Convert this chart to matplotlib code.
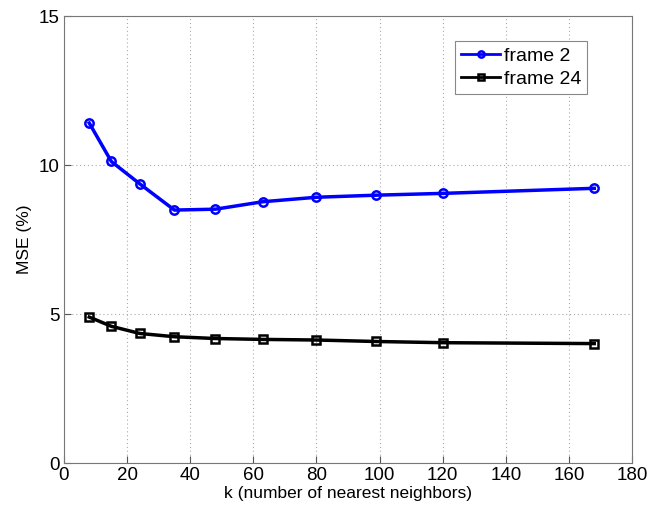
import numpy as np
import matplotlib.pyplot as plt

plt.rcParams['font.family'] = ['Liberation Sans', 'DejaVu Sans']

# k values (number of nearest neighbors)
k = [8, 15, 24, 35, 48, 63, 80, 99, 120, 168]
# MSE (%) per frame
mse_frame2 = [11.41, 10.12, 9.37, 8.49, 8.52, 8.77, 8.92, 8.99, 9.05, 9.22]
mse_frame24 = [4.90, 4.59, 4.35, 4.24, 4.18, 4.15, 4.13, 4.08, 4.04, 4.01]

fig = plt.figure(figsize=(6.51, 5.18), dpi=100)
ax = fig.add_axes([0.0983, 0.106, 0.8727, 0.863])

ax.plot(k, mse_frame2, color='blue', linewidth=2.5, marker='o', markersize=6,
        markerfacecolor='none', markeredgewidth=1.8, label='frame 2')
ax.plot(k, mse_frame24, color='black', linewidth=2.5, marker='s', markersize=5.5,
        markerfacecolor='none', markeredgewidth=1.8, label='frame 24')

ax.set_xlim(0, 180)
ax.set_ylim(0, 15)
ax.set_xticks(np.arange(0, 181, 20))
ax.set_yticks([0, 5, 10, 15])
ax.tick_params(direction='in', labelsize=13.5, color='#555555', length=5, pad=3)
for s in ax.spines.values():
    s.set_color('#777777')
ax.grid(True, linestyle=(0, (1, 2.5)), color='#aaaaaa', linewidth=0.8)

ax.set_xlabel('k (number of nearest neighbors)', fontsize=12.5, labelpad=1)
ax.set_ylabel('MSE (%)', fontsize=12.5, labelpad=5)

leg = ax.legend(loc='upper right', bbox_to_anchor=(0.921, 0.944), fontsize=14,
                fancybox=False, framealpha=1, edgecolor='#888888',
                handlelength=2.0, handletextpad=0.2, borderpad=0.3,
                labelspacing=0.3, borderaxespad=0)
leg.get_frame().set_linewidth(0.8)
for h in leg.get_lines():
    h.set_linewidth(2)
    h.set_markersize(4.5)

fig.savefig('out.png', dpi=100)
